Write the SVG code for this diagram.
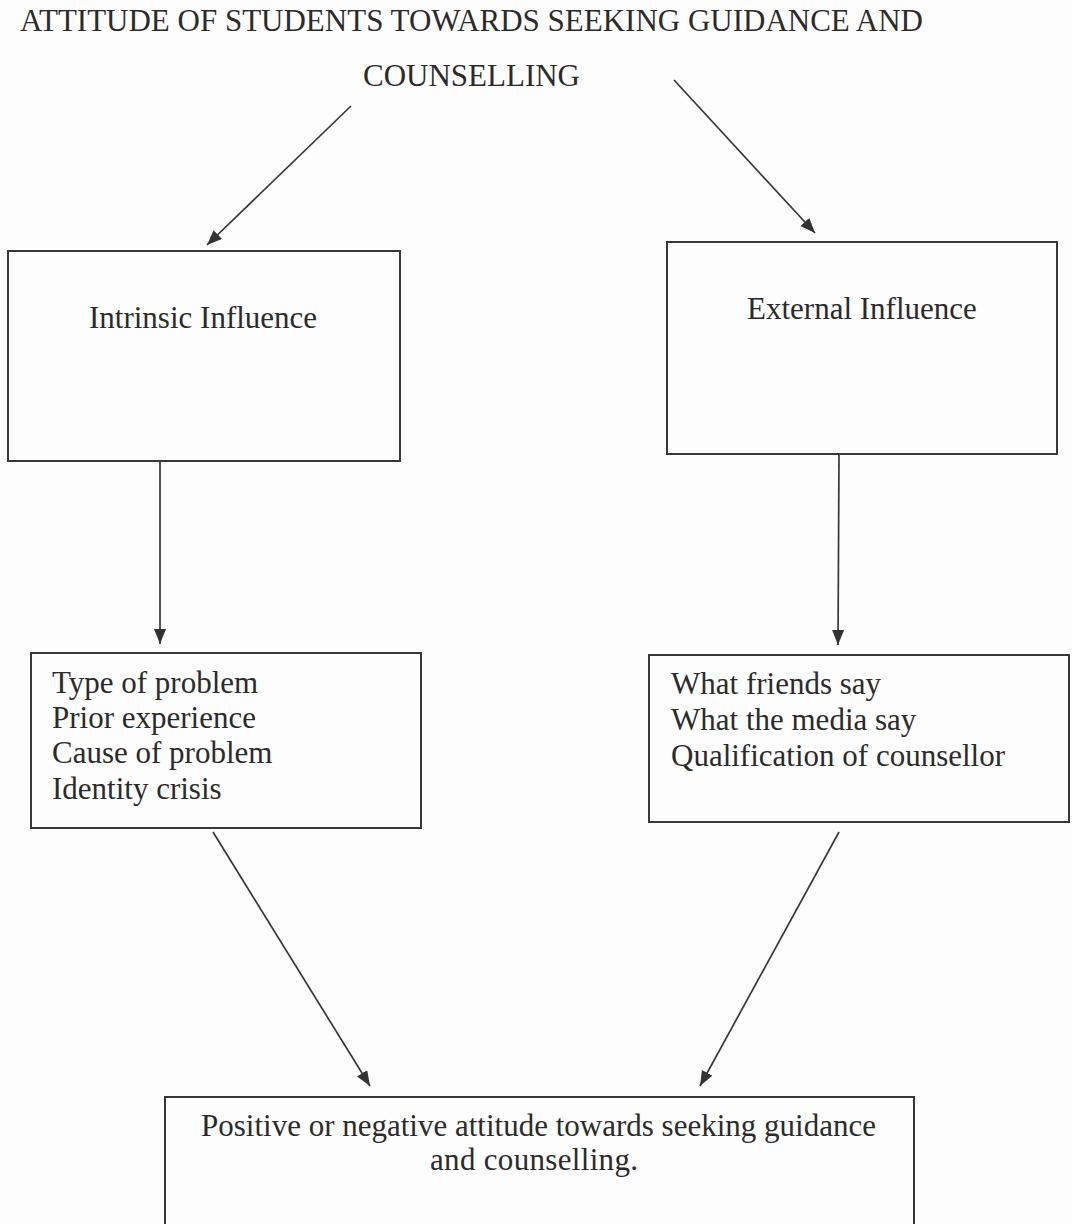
<svg xmlns="http://www.w3.org/2000/svg" width="1072" height="1224" viewBox="0 0 1072 1224">
  <defs>
    <style>
      .t { font-family: "Liberation Serif", "Times New Roman", serif; font-size: 31px; fill: #2b2b2b; }
      .box { fill: none; stroke: #383838; stroke-width: 2; }
      .conn { fill: none; stroke: #383838; stroke-width: 1.7; marker-end: url(#arrow); }
    </style>
    <marker id="arrow" markerUnits="userSpaceOnUse" markerWidth="18" markerHeight="14" refX="15" refY="6" orient="auto">
      <path d="M0,0 L15,6 L0,12 Z" fill="#333333"/>
    </marker>
  </defs>
  <rect x="0" y="0" width="1072" height="1224" fill="#fdfdfd"/>

  <g id="title">
    <text class="t" x="20" y="31">ATTITUDE OF STUDENTS TOWARDS SEEKING GUIDANCE AND</text>
    <text class="t" x="363" y="86">COUNSELLING</text>
  </g>

  <g id="intrinsic">
    <rect class="box" x="8" y="251" width="392" height="210"/>
    <text class="t" x="89" y="328">Intrinsic Influence</text>
  </g>

  <g id="external">
    <rect class="box" x="667" y="242" width="390" height="212"/>
    <text class="t" x="747" y="319">External Influence</text>
  </g>

  <g id="intrinsic-factors">
    <rect class="box" x="31" y="653" width="390" height="175"/>
    <text class="t" x="52" y="693">Type of problem</text>
    <text class="t" x="52" y="728">Prior experience</text>
    <text class="t" x="52" y="763">Cause of problem</text>
    <text class="t" x="52" y="799">Identity crisis</text>
  </g>

  <g id="external-factors">
    <rect class="box" x="649" y="655" width="420" height="167"/>
    <text class="t" x="671" y="694">What friends say</text>
    <text class="t" x="671" y="730">What the media say</text>
    <text class="t" x="671" y="766">Qualification of counsellor</text>
  </g>

  <g id="attitude">
    <rect class="box" x="165" y="1097" width="749" height="150"/>
    <text class="t" x="201" y="1136">Positive or negative attitude towards seeking guidance</text>
    <text class="t" x="430" y="1170" textLength="208" lengthAdjust="spacing">and counselling.</text>
  </g>

  <g id="connectors">
    <line class="conn" x1="351" y1="106" x2="207" y2="245"/>
    <line class="conn" x1="674" y1="80" x2="815" y2="233"/>
    <line class="conn" x1="160" y1="461" x2="160" y2="644"/>
    <line class="conn" x1="839" y1="454" x2="838" y2="645"/>
    <line class="conn" x1="213" y1="832" x2="370" y2="1086"/>
    <line class="conn" x1="839" y1="832" x2="700" y2="1086"/>
  </g>
</svg>
